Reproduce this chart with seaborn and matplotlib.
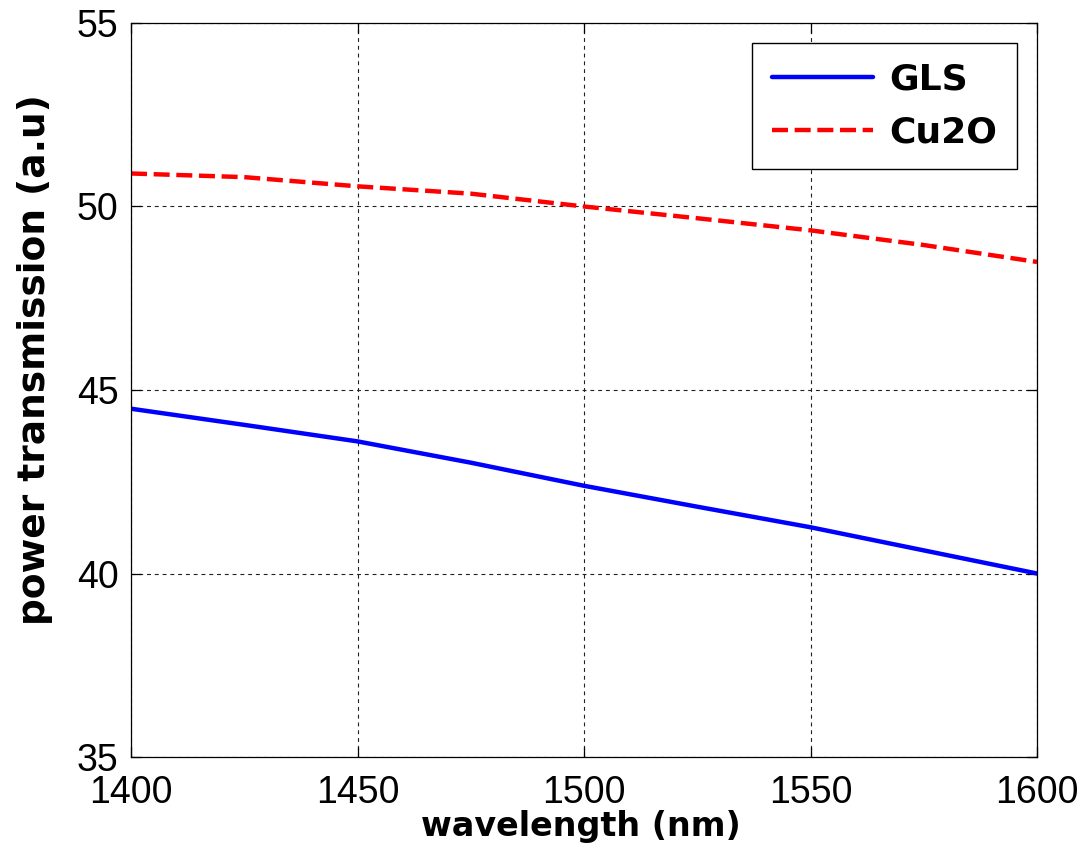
import matplotlib
matplotlib.use("Agg")
import matplotlib.pyplot as plt
import seaborn as sns
import pandas as pd

wavelength = [1400, 1425, 1450, 1475, 1500, 1525, 1550, 1575, 1600]
gls = [44.49, 44.05, 43.60, 43.02, 42.39, 41.82, 41.26, 40.63, 40.00]
cu2o = [50.90, 50.80, 50.55, 50.35, 50.00, 49.68, 49.35, 48.95, 48.49]
series_names = ["GLS", "Cu2O"]
x_ticks = [1400, 1450, 1500, 1550, 1600]
y_ticks = [35, 40, 45, 50, 55]

sns.set_theme(style="white")
plt.rcParams["font.family"] = ["Liberation Sans", "DejaVu Sans"]
plt.rcParams["text.color"] = "black"
plt.rcParams["axes.labelcolor"] = "black"
plt.rcParams["legend.labelcolor"] = "black"

fig = plt.figure(figsize=(10.91, 8.5), dpi=100)
ax = fig.add_axes([131 / 1091, 1 - 757 / 850, 906 / 1091, 734 / 850])

df = pd.DataFrame({
    "wavelength": wavelength * 2,
    "value": gls + cu2o,
    "series": [series_names[0]] * len(wavelength) + [series_names[1]] * len(wavelength),
})

sns.lineplot(data=df, x="wavelength", y="value", hue="series", style="series",
             palette={"GLS": "#0000ff", "Cu2O": "#ff0000"},
             dashes={"GLS": "", "Cu2O": (3.6, 1.5)},
             linewidth=3.2, ax=ax, legend=True)

ax.set_xlim(1400, 1600)
ax.set_ylim(35, 55)
ax.set_xticks(x_ticks)
ax.set_yticks(y_ticks)
ax.set_xticklabels([str(v) for v in x_ticks], fontsize=27, family="Liberation Sans")
ax.set_yticklabels([str(v) for v in y_ticks], fontsize=27, family="Liberation Sans")

ax.grid(True, color="#222222", linestyle=(0, (3.5, 3.5)), linewidth=0.8)
for s in ax.spines.values():
    s.set_color("black")
    s.set_linewidth(0.9)
    s.set_visible(True)

ax.tick_params(axis="both", which="major", direction="in", length=7, width=0.9,
               color="black", top=True, right=True, bottom=True, left=True,
               labelcolor="black")
ax.tick_params(axis="x", pad=13)
ax.tick_params(axis="y", pad=9)

ax.set_xlabel("wavelength (nm)", fontsize=24, fontweight="bold", family="DejaVu Sans", color="black")
ax.set_ylabel("power transmission (a.u)", fontsize=27, fontweight="bold", family="DejaVu Sans", color="black")
ax.xaxis.set_label_coords(0.497, -0.072)
ax.yaxis.set_label_coords(-0.086, 0.541)

handles, labels = ax.get_legend_handles_labels()
leg = ax.legend(handles=handles, labels=labels, loc="upper right",
                bbox_to_anchor=(1, 1), borderaxespad=0.55,
                prop={"family": "DejaVu Sans", "weight": "bold", "size": 26},
                handlelength=2.8, handletextpad=0.45, labelspacing=0.52,
                borderpad=0.55, fancybox=False, framealpha=1, edgecolor="black",
                labelcolor="black")
leg.get_frame().set_linewidth(1.0)
for line in leg.get_lines():
    line.set_linewidth(3.2)

fig.savefig("out.png", dpi=100, facecolor="white")
